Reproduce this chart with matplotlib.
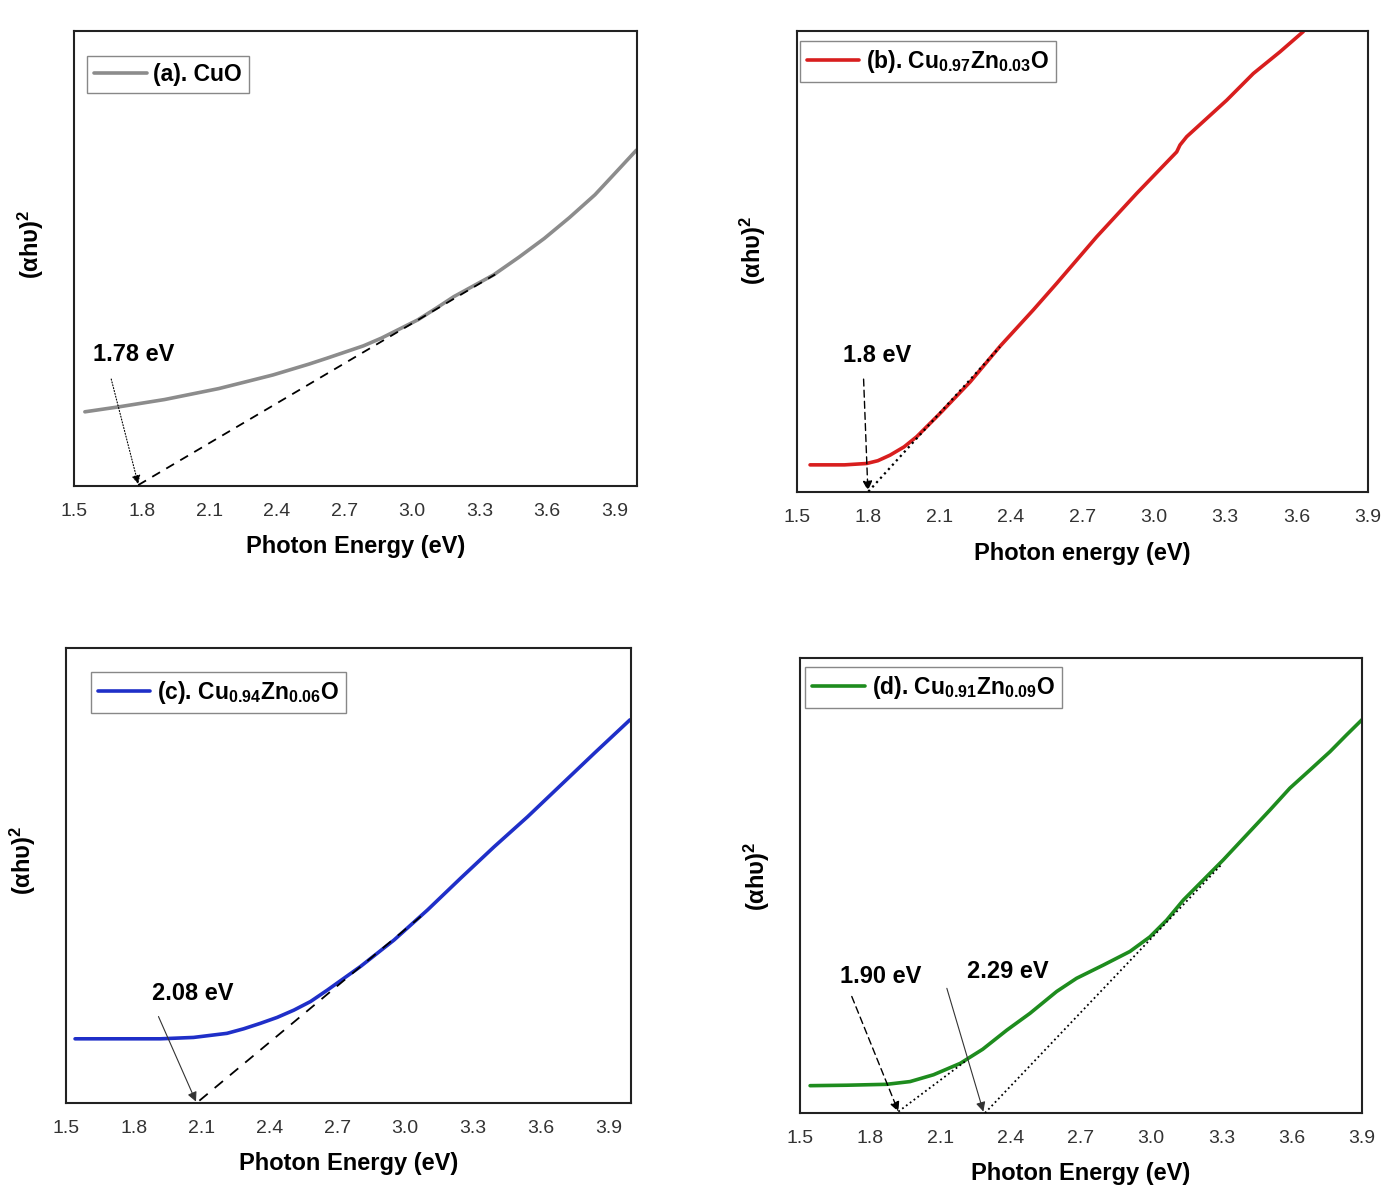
import matplotlib
matplotlib.use('Agg')
import matplotlib.pyplot as plt

plt.rcParams['font.family'] = ['Liberation Sans', 'DejaVu Sans']
plt.rcParams['mathtext.fontset'] = 'custom'
plt.rcParams['mathtext.rm'] = 'Liberation Sans:bold'
plt.rcParams['mathtext.it'] = 'Liberation Sans:bold'
plt.rcParams['mathtext.bf'] = 'Liberation Sans:bold'

# (a) CuO
e_a = [1.548, 1.70, 1.902, 2.022, 2.142, 2.263, 2.383, 2.544, 2.624, 2.785, 2.865, 3.026, 3.106,
       3.186, 3.363, 3.476, 3.588, 3.70, 3.813, 3.909, 3.997]
y_a = [16.3, 17.4, 19.0, 20.2, 21.4, 22.9, 24.4, 26.8, 28.1, 30.8, 32.5, 36.5, 39.0,
       41.6, 46.4, 50.3, 54.4, 59.0, 64.0, 69.1, 73.8]
tan_a_e = [1.785, 3.37]
tan_a_y = [0.2, 46.5]

# (b) Cu0.97Zn0.03O
e_b = [1.555, 1.70, 1.793, 1.84, 1.891, 1.95, 2.003, 2.102, 2.228, 2.353, 2.493, 2.592, 2.76, 2.928, 3.096,
       3.11, 3.138, 3.306, 3.418, 3.53, 3.628]
y_b = [5.9, 5.9, 6.2, 6.8, 8.0, 9.8, 12.0, 17.1, 23.9, 31.6, 39.5, 45.3, 55.4, 64.8, 73.8,
       75.3, 77.1, 85.0, 90.8, 95.5, 99.9]
tan_b_e = [1.80, 2.353]
tan_b_y = [0.1, 31.5]

# (c) Cu0.94Zn0.06O
e_c = [1.54, 1.917, 2.064, 2.212, 2.286, 2.36, 2.434, 2.508, 2.582, 2.656, 2.803, 2.951, 3.099,
       3.246, 3.394, 3.542, 3.69, 3.838, 3.995]
y_c = [14.1, 14.1, 14.4, 15.3, 16.3, 17.5, 18.8, 20.4, 22.3, 24.8, 30.0, 35.8, 42.4,
       49.4, 56.3, 62.9, 69.9, 76.9, 84.2]
tan_c_e = [2.09, 3.07]
tan_c_y = [0.5, 41.0]

# (d) Cu0.91Zn0.09O
e_d = [1.543, 1.70, 1.87, 1.97, 2.07, 2.184, 2.28, 2.383, 2.482, 2.596, 2.681, 2.795, 2.909,
       2.994, 3.066, 3.137, 3.222, 3.307, 3.407, 3.507, 3.592, 3.678, 3.763, 3.834, 3.905]
y_d = [6.0, 6.1, 6.3, 6.9, 8.4, 10.9, 14.0, 18.2, 21.9, 26.7, 29.6, 32.5, 35.5,
       38.7, 42.4, 46.8, 51.2, 55.6, 61.1, 66.6, 71.4, 75.4, 79.4, 83.1, 86.7]
tan_d1_e = [1.92, 2.212]
tan_d1_y = [0.3, 11.6]
tan_d2_e = [2.29, 3.30]
tan_d2_y = [0.0, 54.6]

xticks = [1.5, 1.8, 2.1, 2.4, 2.7, 3.0, 3.3, 3.6, 3.9]

fig = plt.figure(figsize=(13.87, 11.92), dpi=100)

panels = [
    dict(rect=[0.0534, 0.5923, 0.4059, 0.3817], x=e_a, y=y_a, color='#8c8c8c', xmax=4.0,
         label='(a). CuO', leg=(0.023, 0.945), xlabel='Photon Energy (eV)', ylab_y=0.53),
    dict(rect=[0.5746, 0.5872, 0.4117, 0.3867], x=e_b, y=y_b, color='#d81e1e', xmax=3.9,
         label=r'(b). Cu$_{0.97}$Zn$_{0.03}$O', leg=(0.005, 0.978), xlabel='Photon energy (eV)', ylab_y=0.525),
    dict(rect=[0.0476, 0.0747, 0.4074, 0.3817], x=e_c, y=y_c, color='#1f2fc8', xmax=4.0,
         label=r'(c). Cu$_{0.94}$Zn$_{0.06}$O', leg=(0.044, 0.947), xlabel='Photon Energy (eV)', ylab_y=0.534),
    dict(rect=[0.5768, 0.0663, 0.4052, 0.3817], x=e_d, y=y_d, color='#1e8c1e', xmax=3.9,
         label=r'(d). Cu$_{0.91}$Zn$_{0.09}$O', leg=(0.009, 0.98), xlabel='Photon Energy (eV)', ylab_y=0.52),
]

axes = []
for p in panels:
    ax = fig.add_axes(p['rect'])
    ax.plot(p['x'], p['y'], color=p['color'], lw=2.6, label=p['label'],
            solid_capstyle='round', solid_joinstyle='round', zorder=2)
    ax.set_xlim(1.5, p['xmax'])
    ax.set_ylim(0, 100)
    ax.set_xticks(xticks)
    ax.set_xticklabels(['%.1f' % t for t in xticks])
    ax.set_yticks([])
    ax.tick_params(axis='x', length=0, pad=12, labelsize=14, labelcolor='#333333')
    for s in ax.spines.values():
        s.set_linewidth(1.5)
        s.set_color('#222222')
    ax.set_xlabel(p['xlabel'], fontsize=17, fontweight='bold')
    ax.xaxis.set_label_coords(0.5, -0.108)
    ax.xaxis.label.set_va('top')
    ax.set_ylabel('(αhυ)$^{2}$', fontsize=17, fontweight='bold')
    ax.yaxis.set_label_coords(-0.05, p['ylab_y'])
    leg = ax.legend(loc='upper left', bbox_to_anchor=p['leg'], borderaxespad=0, fancybox=False,
                    edgecolor='#888888', framealpha=1, handlelength=2.3, handletextpad=0.3,
                    borderpad=0.3, prop={'weight': 'bold', 'size': 16.5})
    leg.get_frame().set_linewidth(1.0)
    axes.append(ax)

ax_a, ax_b, ax_c, ax_d = axes

# tangent lines and band-gap arrows
ax_a.plot(tan_a_e, tan_a_y, color='k', lw=1.3, ls=(0, (5, 4)), zorder=3)
ax_a.text(1.584, 29.0, '1.78 eV', fontsize=17, fontweight='bold', va='center', ha='left')
ax_a.annotate('', xy=(1.785, 0.4), xytext=(1.665, 23.5),
              arrowprops=dict(arrowstyle='-|>', lw=0.8, ls=':', color='k', mutation_scale=13,
                              shrinkA=0, shrinkB=0))

ax_b.plot(tan_b_e, tan_b_y, color='k', lw=1.6, ls=':', zorder=3)
ax_b.text(1.693, 29.7, '1.8 eV', fontsize=17, fontweight='bold', va='center', ha='left')
ax_b.annotate('', xy=(1.798, 0.3), xytext=(1.78, 24.5),
              arrowprops=dict(arrowstyle='-|>', lw=1.0, ls=(0, (5, 3)), color='k', mutation_scale=14,
                              shrinkA=0, shrinkB=0))

ax_c.plot(tan_c_e, tan_c_y, color='k', lw=1.3, ls=(0, (6, 5)), zorder=3)
ax_c.text(1.88, 24.1, '2.08 eV', fontsize=17, fontweight='bold', va='center', ha='left')
ax_c.annotate('', xy=(2.075, 0.3), xytext=(1.909, 19.0),
              arrowprops=dict(arrowstyle='-|>', lw=0.8, color='#333333', mutation_scale=14,
                              shrinkA=0, shrinkB=0))

ax_d.plot(tan_d1_e, tan_d1_y, color='k', lw=1.3, ls=':', zorder=3)
ax_d.plot(tan_d2_e, tan_d2_y, color='k', lw=1.3, ls=':', zorder=3)
ax_d.text(1.671, 30.1, '1.90 eV', fontsize=17, fontweight='bold', va='center', ha='left')
ax_d.text(2.212, 31.1, '2.29 eV', fontsize=17, fontweight='bold', va='center', ha='left')
ax_d.annotate('', xy=(1.92, 0.3), xytext=(1.721, 25.6),
              arrowprops=dict(arrowstyle='-|>', lw=1.0, ls=(0, (5, 3)), color='k', mutation_scale=14,
                              shrinkA=0, shrinkB=0))
ax_d.annotate('', xy=(2.283, 0.3), xytext=(2.127, 27.4),
              arrowprops=dict(arrowstyle='-|>', lw=0.8, color='#333333', mutation_scale=14,
                              shrinkA=0, shrinkB=0))

fig.savefig('out.png', dpi=100)
